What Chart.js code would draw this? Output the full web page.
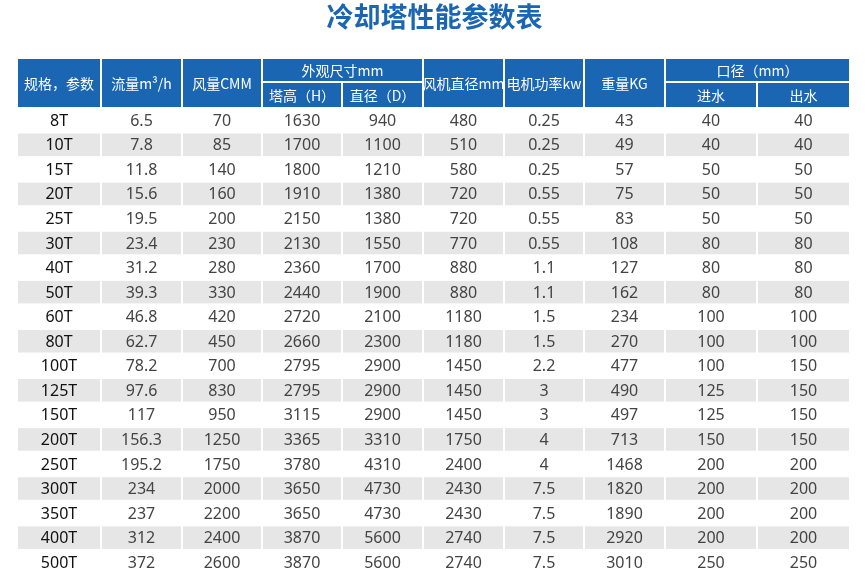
<!DOCTYPE html>
<html><head><meta charset="utf-8">
<script src="https://cdn.jsdelivr.net/npm/chart.js@4"></script>
<style>body{margin:0;background:#fff}#c{display:block}</style>
</head><body>
<canvas id="c" width="865" height="581"></canvas>
<script>
// Table data
const title = '冷却塔性能参数表';
const models = ['8T','10T','15T','20T','25T','30T','40T','50T','60T','80T','100T','125T','150T','200T','250T','300T','350T','400T','500T'];
const flow = ['6.5','7.8','11.8','15.6','19.5','23.4','31.2','39.3','46.8','62.7','78.2','97.6','117','156.3','195.2','234','237','312','372'];
const airflow = [70,85,140,160,200,230,280,330,420,450,700,830,950,1250,1750,2000,2200,2400,2600];
const towerHeight = [1630,1700,1800,1910,2150,2130,2360,2440,2720,2660,2795,2795,3115,3365,3780,3650,3650,3870,3870];
const diameter = [940,1100,1210,1380,1380,1550,1700,1900,2100,2300,2900,2900,2900,3310,4310,4730,4730,5600,5600];
const fanDiameter = [480,510,580,720,720,770,880,880,1180,1180,1450,1450,1450,1750,2400,2430,2430,2740,2740];
const motorPower = ['0.25','0.25','0.25','0.55','0.55','0.55','1.1','1.1','1.5','1.5','2.2','3','3','4','4','7.5','7.5','7.5','7.5'];
const weight = [43,49,57,75,83,108,127,162,234,270,477,490,497,713,1468,1820,1890,2920,3010];
const inlet = [40,40,50,50,50,80,80,80,100,100,100,125,125,150,200,200,200,200,250];
const outlet = [40,40,50,50,50,80,80,80,100,100,150,150,150,150,200,200,200,200,250];
const columns = [models, flow, airflow, towerHeight, diameter, fanDiameter, motorPower, weight, inlet, outlet];
const colEdges = [17,101,182,262,342,423,504,584,665,757,850];

const rowTop = 108, rowH = 24.55;
const blue = '#1a66b3';

const tablePlugin = {
  id: 'table',
  afterDraw(chart) {
    const {ctx, scales: {x, y}} = chart;
    const g = 1;
    function cell(c0, c1, y0, y1, fill) {
      const l = x.getPixelForValue(colEdges[c0]) + g, r = x.getPixelForValue(colEdges[c1]) - g;
      const t = y.getPixelForValue(y0) + g, b = y.getPixelForValue(y1) - g;
      ctx.fillStyle = fill;
      ctx.fillRect(l, t, r - l, b - t);
      return [(l + r) / 2, (t + b) / 2 + 1];
    }
    function text(s, p, color, font) {
      ctx.fillStyle = color; ctx.font = font;
      ctx.textAlign = 'center'; ctx.textBaseline = 'middle';
      ctx.fillText(s, p[0], p[1]);
    }
    const hf = '14px "Noto Sans CJK SC"';
    // header
    const single = {0: '规格，参数', 1: '流量m³/h', 2: '风量CMM', 5: '风机直径mm', 6: '电机功率kw', 7: '重量KG'};
    for (const k in single) text(single[k], cell(+k, +k + 1, 58, 108, blue), '#fff', hf);
    text('外观尺寸mm', cell(3, 5, 58, 82, blue), '#fff', hf);
    text('塔高（H）', cell(3, 4, 82, 108, blue), '#fff', hf);
    text('直径（D）', cell(4, 5, 82, 108, blue), '#fff', hf);
    text('口径（mm）', cell(8, 10, 58, 82, blue), '#fff', hf);
    text('进水', cell(8, 9, 82, 108, blue), '#fff', hf);
    text('出水', cell(9, 10, 82, 108, blue), '#fff', hf);
    // body
    models.forEach((m, i) => {
      const y0 = rowTop + i * rowH, y1 = y0 + rowH;
      const fill = i % 2 ? '#e6e6e6' : '#fff';
      columns.forEach((col, j) => {
        const p = cell(j, j + 1, y0, y1, fill);
        text(String(col[i]), p, j === 0 ? '#111' : '#444', '16px "Noto Sans"');
      });
    });
    // title
    ctx.fillStyle = blue; ctx.font = 'bold 27px "Noto Sans CJK SC"';
    ctx.textAlign = 'center'; ctx.textBaseline = 'middle';
    ctx.fillText(title, chart.width / 2 + 2, 17);
  }
};

new Chart(document.getElementById('c'), {
  type: 'scatter',
  data: { datasets: [{ data: [] }] },
  options: {
    responsive: false, animation: false,
    layout: { padding: 0 },
    plugins: { legend: { display: false }, tooltip: { enabled: false } },
    scales: {
      x: { type: 'linear', min: 0, max: 865, display: false },
      y: { type: 'linear', min: 0, max: 581, reverse: true, display: false }
    }
  },
  plugins: [tablePlugin]
});
</script>
</body></html>
